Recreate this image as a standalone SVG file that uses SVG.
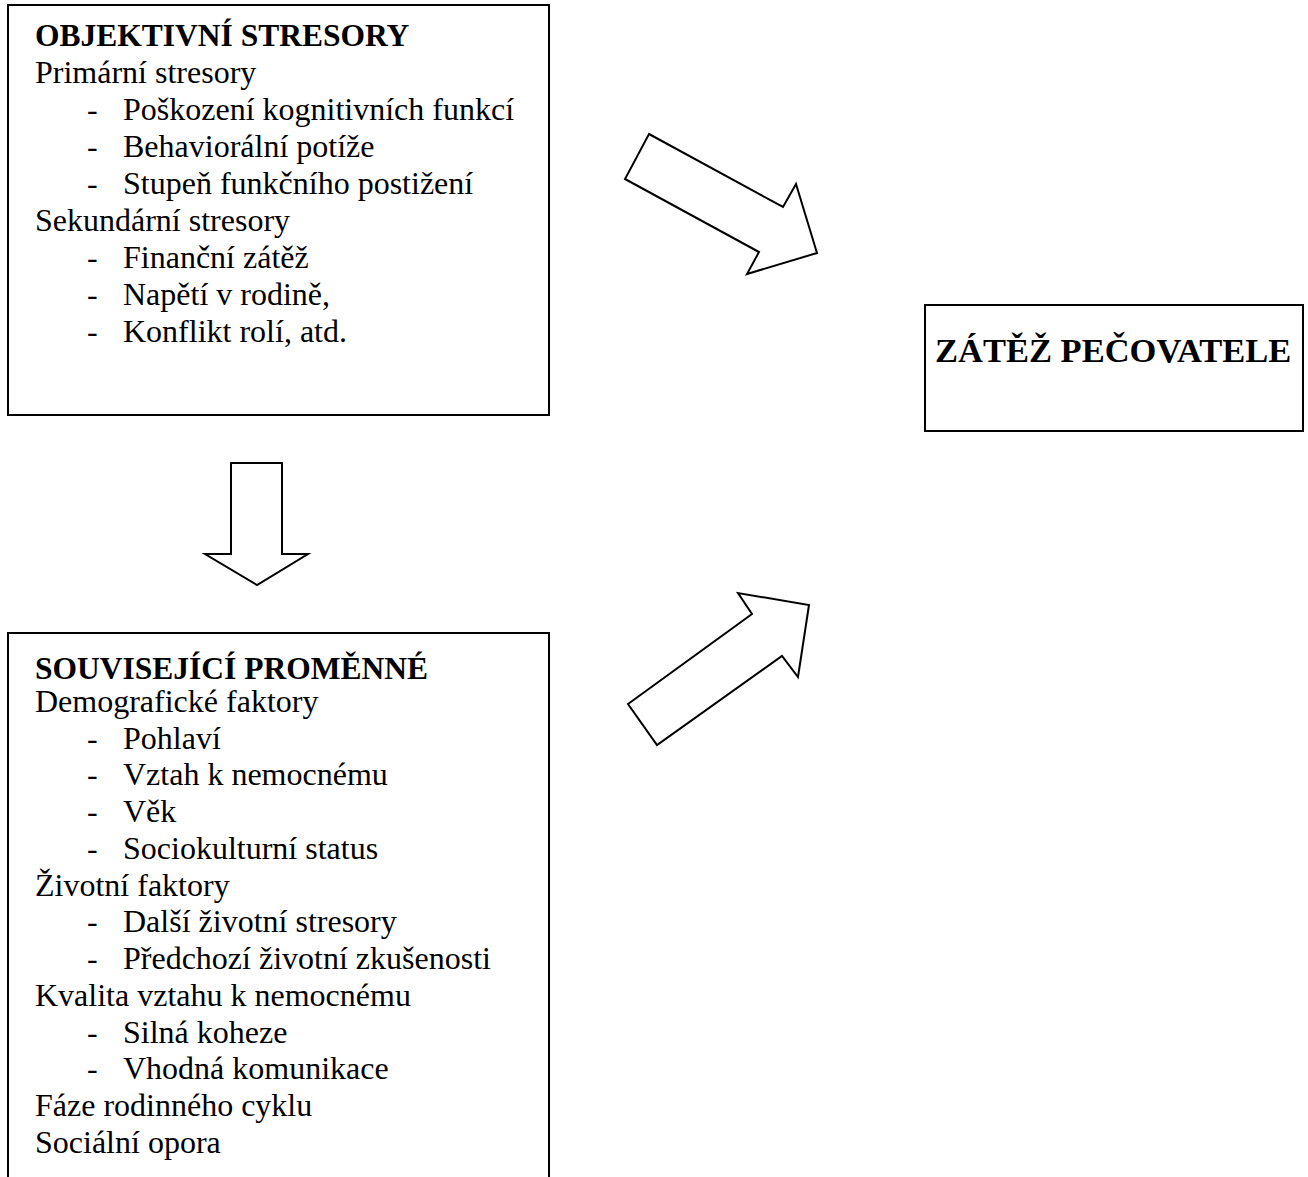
<svg xmlns="http://www.w3.org/2000/svg" width="1308" height="1177" viewBox="0 0 1308 1177">
<style>
.box{fill:#fff;stroke:#000;stroke-width:2}
.arrow{fill:#fff;stroke:#000;stroke-width:2;stroke-linejoin:miter}
text{font-family:"Liberation Serif","Times New Roman",serif;font-size:32px;fill:#000}
.b{font-weight:bold;font-size:31.5px}
.big{font-size:34.5px}
</style>
<rect width="1308" height="1177" fill="#fff"/>
<g id="objektivni">
<rect class="box" x="8" y="5" width="541" height="410"/>
<text class="b" x="35" y="46">OBJEKTIVNÍ STRESORY</text>
<text x="35" y="83">Primární stresory</text>
<text x="87" y="120">-</text><text x="123" y="120">Poškození kognitivních funkcí</text>
<text x="87" y="157">-</text><text x="123" y="157">Behaviorální potíže</text>
<text x="87" y="194">-</text><text x="123" y="194">Stupeň funkčního postižení</text>
<text x="35" y="231">Sekundární stresory</text>
<text x="87" y="268">-</text><text x="123" y="268">Finanční zátěž</text>
<text x="87" y="305">-</text><text x="123" y="305">Napětí v rodině,</text>
<text x="87" y="342">-</text><text x="123" y="342">Konflikt rolí, atd.</text>
</g>
<g id="zatez">
<rect class="box" x="925" y="305" width="378" height="126"/>
<text class="b big" x="935" y="362">ZÁTĚŽ PEČOVATELE</text>
</g>
<g id="souvisejici">
<rect class="box" x="8" y="633" width="541" height="560"/>
<text class="b" x="35" y="679">SOUVISEJÍCÍ PROMĚNNÉ</text>
<text x="35" y="712">Demografické faktory</text>
<text x="87" y="749">-</text><text x="123" y="749">Pohlaví</text>
<text x="87" y="785">-</text><text x="123" y="785">Vztah k nemocnému</text>
<text x="87" y="822">-</text><text x="123" y="822">Věk</text>
<text x="87" y="859">-</text><text x="123" y="859">Sociokulturní status</text>
<text x="35" y="896">Životní faktory</text>
<text x="87" y="932">-</text><text x="123" y="932">Další životní stresory</text>
<text x="87" y="969">-</text><text x="123" y="969">Předchozí životní zkušenosti</text>
<text x="35" y="1006">Kvalita vztahu k nemocnému</text>
<text x="87" y="1043">-</text><text x="123" y="1043">Silná koheze</text>
<text x="87" y="1079">-</text><text x="123" y="1079">Vhodná komunikace</text>
<text x="35" y="1116">Fáze rodinného cyklu</text>
<text x="35" y="1153">Sociální opora</text>
</g>
<g id="connectors">
<polygon class="arrow" points="649,134 783,207 796,184 817,253 747,274 759,252 625,179"/>
<polygon class="arrow" points="628,704 752,614 738,593 809,605 798,677 782,656 657,745"/>
<polygon class="arrow" points="231,463 282,463 282,554 308,554 257,585 205,554 231,554"/>
</g>
</svg>
